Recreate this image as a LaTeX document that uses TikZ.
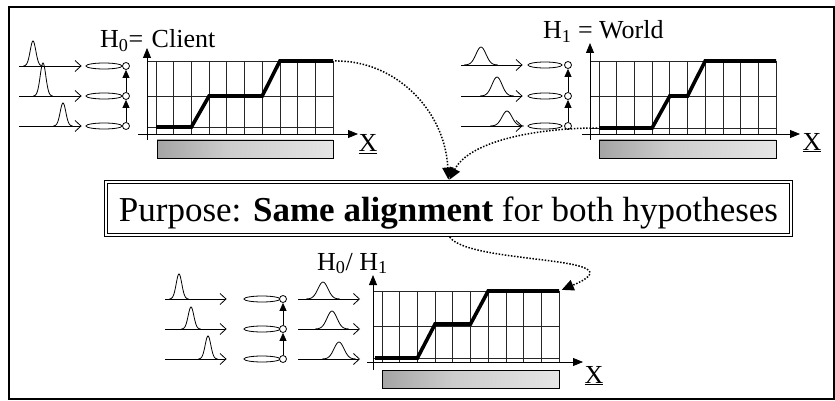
\documentclass[tikz,border=0pt]{standalone}
\usepackage{fontspec}
\setmainfont{Liberation Serif}
\usetikzlibrary{arrows.meta,shapes.geometric}

\pgfdeclarehorizontalshading{barshade}{100bp}{color(0bp)=(black!70); color(22bp)=(black!38); color(45bp)=(black!20); color(75bp)=(black!10); color(100bp)=(black!3)}

\newcommand{\gpeak}[4]{% x, baseline y, height, spread
  \draw[line width=0.8pt] plot[domain=-2.4*#4:2.4*#4, samples=31, smooth]
    ({#1+\x},{#2-#3*exp(0-(\x/#4)*(\x/#4))});}

\tikzset{
  rowarrow/.style={line width=0.8pt, -{Straight Barb[length=6pt,width=11pt]}},
  ring/.style={ellipse, draw, line width=0.8pt, minimum width=36pt, minimum height=6pt, inner sep=0pt},
  knot/.style={circle, draw, fill=white, line width=0.8pt, minimum size=7pt, inner sep=0pt},
  uparrow/.style={line width=0.8pt, -{Triangle[length=8pt,width=7pt]}},
  axisline/.style={line width=0.8pt, -{Triangle[length=10pt,width=8pt]}},
  gridline/.style={line width=0.8pt, black!85},
  stair/.style={line width=3.6pt},
  bar/.style={draw=black, line width=0.8pt, shading=barshade},
  hop/.style={line width=1.5pt, dash pattern=on 1.5pt off 1.6pt, -{Triangle[length=12pt,width=11pt]}},
  headtext/.style={font=\fontsize{26}{30}\selectfont, inner sep=0pt, anchor=base west},
  xlabel/.style={font=\fontsize{26}{30}\selectfont, inner sep=0pt, anchor=base}
}

\begin{document}
\begin{tikzpicture}[x=1pt, y=-1pt]
    \useasboundingbox (0,0) rectangle (835,401);
    \draw[line width=1.3pt] (9,7) rectangle (834,399);

    % H0 = Client
    \begin{scope}[shift={(156,61)}]
        \foreach \k in {0,...,10} {
          \draw[gridline] (\k*17.7,0) -- (\k*17.7,73);
        }
        \foreach \r in {0,35,66} {
          \draw[gridline] (-9,\r) -- (177,\r);
        }
        \draw[axisline] (-9,79) -- (-9,-13);
        \draw[axisline] (-18,73) -- (202,73);
        \shadedraw[bar] (1,79) rectangle (177,97);
        \draw[stair] (0,66) -- (35.4,66) -- (53.1,35) -- (106.2,35) -- (123.9,0) -- (177,0) coordinate (s1e);
        \node[headtext] (t1) at (-56,-13) {H\textsubscript{0}=\hspace{2pt} Client};
        \node[xlabel] (x1) at (212,91) {\underline{X}};
    \end{scope}
    \foreach \i/\yy/\px/\ph in {1/66/33/25, 2/96/43/33, 3/126/63/23} {
      \coordinate (ca\i) at (19,\yy);
      \node[ring] (ce\i) at (104,\yy) {};
      \node[knot] (ck\i) at (126,\yy) {};
      \draw[rowarrow, shorten >=4pt] (ca\i) -- (ce\i);
      \gpeak{\px}{\yy}{\ph}{4}
    }
    \draw[uparrow] (ck3) -- (ck2);
    \draw[uparrow] (ck2) -- (ck1);

    % H1 = World
    \begin{scope}[shift={(599,61)}]
        \foreach \k in {0,...,10} {
          \draw[gridline] (\k*17.7,0) -- (\k*17.7,73);
        }
        \foreach \r in {0,35,67} {
          \draw[gridline] (-9,\r) -- (177,\r);
        }
        \draw[axisline] (-9,79) -- (-9,-18);
        \draw[axisline] (-17,73) -- (201,73);
        \shadedraw[bar] (0,79) rectangle (177,97);
        \draw[stair] (0,67) coordinate (s2s) -- (53.1,67) -- (70.8,35) -- (88.5,35) -- (106.2,0) -- (177,0);
        \node[headtext] (t2) at (-56,-22) {H\textsubscript{1} = World};
        \node[xlabel] (x2) at (213,89) {\underline{X}};
    \end{scope}
    \foreach \i/\yy/\px/\ph in {1/65/481/18, 2/96/497/19, 3/126/507/15} {
      \coordinate (wa\i) at (461,\yy);
      \node[ring, minimum width=34pt] (we\i) at (545,\yy) {};
      \node[knot] (wk\i) at (568,\yy) {};
      \draw[rowarrow, shorten >=5pt] (wa\i) -- (we\i);
      \gpeak{\px}{\yy}{\ph}{7}
    }
    \draw[uparrow] (wk3) -- (wk2);
    \draw[uparrow] (wk2) -- (wk1);

    % purpose
    \node[draw, double, double distance=1.8pt, line width=0.9pt, minimum width=685pt, minimum height=53pt,
          inner sep=0pt, text height=30pt, text depth=4pt, font=\fontsize{35}{40}\selectfont]
          (box) at (448.5,208.5) {Purpose: \textbf{Same alignment} for both hypotheses};

    % H0 / H1
    \begin{scope}[shift={(382,291)}]
        \foreach \k in {0,...,10} {
          \draw[gridline] (\k*17.7,0) -- (\k*17.7,71);
        }
        \foreach \r in {0,35,67} {
          \draw[gridline] (-9,\r) -- (177,\r);
        }
        \draw[axisline] (-9,79) -- (-9,-16);
        \draw[axisline] (-15,71) -- (201,71);
        \shadedraw[bar] (0,79) rectangle (177,97);
        \draw[stair] (-7,67) -- (35.4,67) -- (53.1,33) -- (88.5,33) -- (106.2,0) -- (177,0) coordinate (s3e);
        \node[headtext] (t3) at (-65,-21) {H\textsubscript{0}/ H\textsubscript{1}};
        \node[xlabel] (x3) at (212,92) {\underline{X}};
    \end{scope}
    \foreach \i/\yy/\px/\ph/\qx/\qh in {1/299/179/25/323/17, 2/329/191/22/332/18, 3/359/208/23/339/17} {
      \coordinate (ba\i) at (165,\yy);
      \node[ring] (be\i) at (262,\yy) {};
      \node[knot] (bk\i) at (283,\yy) {};
      \coordinate (bb\i) at (298,\yy);
      \coordinate (bc\i) at (360,\yy);
      \draw[rowarrow, shorten >=17pt] (ba\i) -- (be\i);
      \draw[rowarrow] (bb\i) -- (bc\i);
      \gpeak{\px}{\yy}{\ph}{4}
      \gpeak{\qx}{\yy}{\qh}{7}
    }
    \draw[uparrow] (bk3) -- (bk2);
    \draw[uparrow] (bk2) -- (bk1);

    % dotted links
    \draw[hop, shorten <=2pt, shorten >=2pt] (s1e) .. controls (395,60) and (445,110) .. (box.north);
    \draw[hop, shorten <=2pt, shorten >=2pt] (s2s) .. controls (540,128) and (470,140) .. (box.north);
    \draw[hop, shorten <=2pt, shorten >=3pt] (box.south) .. controls (470,265) and (645,255) .. (s3e);
\end{tikzpicture}
\end{document}
